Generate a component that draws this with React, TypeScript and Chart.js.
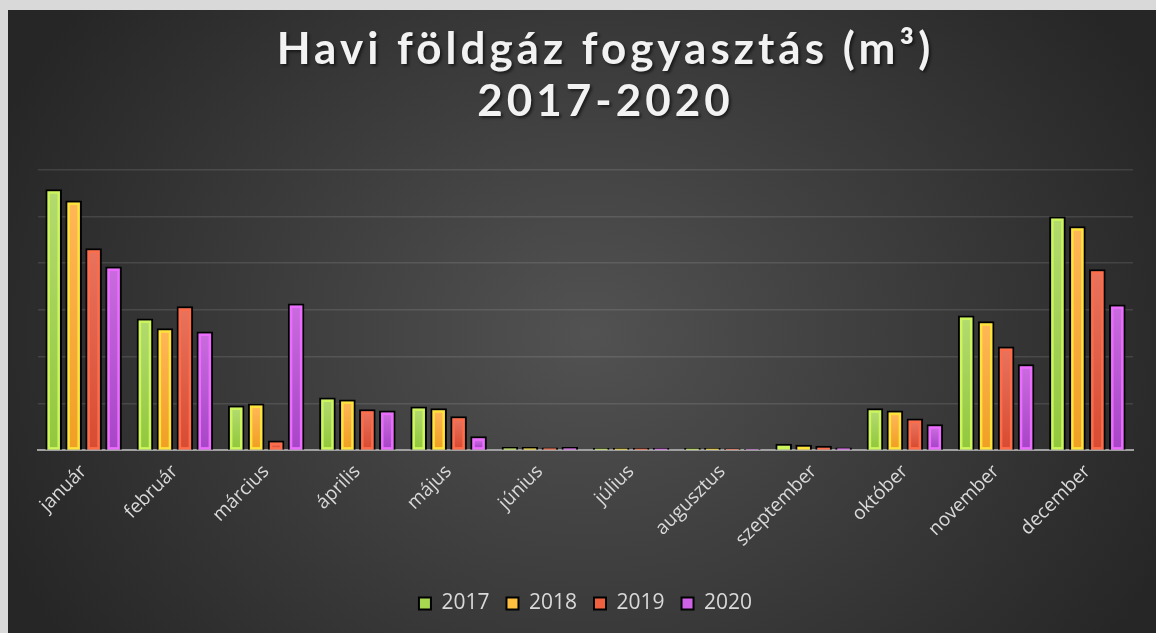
import React, { useEffect, useRef } from 'react';
import { Chart, registerables } from 'chart.js';

Chart.register(...registerables);

const months = ['január', 'február', 'március', 'április', 'május', 'június', 'július', 'augusztus', 'szeptember', 'október', 'november', 'december'];
const years = ['2017', '2018', '2019', '2020'];
const v2017 = [558, 282, 96, 113, 94, 7, 5, 5, 14, 90, 288, 500];
const v2018 = [534, 261, 100, 109, 90, 7, 5, 5, 12, 85, 276, 479];
const v2019 = [432, 308, 21, 88, 73, 6, 5, 4, 10, 68, 222, 387];
const v2020 = [393, 254, 314, 85, 30, 7, 5, 3, 6, 56, 184, 312];
const titleLines = ['Havi földgáz fogyasztás (m³)', '2017-2020'];

const fillTop = ['#b2da6e', '#ffb656', '#e8725c', '#c96ade'];
const fillBottom = ['#92c83e', '#f0a024', '#d84c32', '#a846c8'];
const edgeColors = ['#cdf55c', '#ffe23a', '#ff6c4a', '#ec6cff'];
const legendColors = ['#a8d850', '#ffc040', '#f0603e', '#d062e8'];

const bgPlugin = {
  id: 'bgGradient',
  beforeDraw(chart: any) {
    const { ctx, width, height } = chart;
    const cx = width * 0.505;
    const cy = height * 0.52;
    ctx.save();
    ctx.translate(cx, cy);
    ctx.scale(1, 0.84);
    const g = ctx.createRadialGradient(0, 0, 0, 0, 0, 640);
    g.addColorStop(0, '#525252');
    g.addColorStop(1, '#262626');
    ctx.fillStyle = g;
    ctx.fillRect(-cx - 10, -cy / 0.84 - 10, width + 20, height / 0.84 + 20);
    ctx.restore();
  },
};

const barPlugin = {
  id: 'barStyle',
  afterDatasetsDraw(chart: any) {
    const ctx = chart.ctx;
    chart.data.datasets.forEach((_ds: any, di: number) => {
      const meta = chart.getDatasetMeta(di);
      if (meta.hidden) return;
      meta.data.forEach((bar: any) => {
        const { x, y, base, width } = bar.getProps(['x', 'y', 'base', 'width'], true);
        const b = 2;
        const e = 2.5;
        const left = x - width / 2 + b + e;
        const right = x + width / 2 - b - e;
        const top = y + b + e;
        const bottom = base - e;
        if (bottom - top <= 0 || right - left <= 0) return;
        const g = ctx.createLinearGradient(0, top, 0, bottom);
        g.addColorStop(0, fillTop[di]);
        g.addColorStop(1, fillBottom[di]);
        ctx.save();
        ctx.fillStyle = g;
        ctx.fillRect(left, top, right - left, bottom - top);
        ctx.restore();
      });
    });
  },
};

export default function App() {
  const ref = useRef<HTMLCanvasElement>(null);
  useEffect(() => {
    document.body.style.margin = '0';
    document.body.style.background = '#d9d9d9';
    document.body.style.overflow = 'hidden';
    const canvas = ref.current;
    if (!canvas) return;
    const chart = new Chart(canvas, {
      type: 'bar',
      data: {
        labels: months,
        datasets: [v2017, v2018, v2019, v2020].map((vals, i) => ({
          label: years[i],
          data: vals,
          backgroundColor: edgeColors[i],
          borderColor: '#000000',
          borderWidth: 2,
          borderSkipped: 'start' as const,
          categoryPercentage: 0.875,
          barPercentage: 0.83,
        })),
      },
      options: {
        responsive: false,
        animation: false,
        layout: { padding: { left: 30, right: 23, top: 0, bottom: 9 } },
        scales: {
          x: {
            z: 1,
            grid: { display: false, drawTicks: false },
            border: { display: true, color: '#a0a0a0', width: 2 },
            ticks: {
              color: '#d9d9d9',
              font: { family: 'Open Sans', size: 19 },
              minRotation: 45,
              maxRotation: 45,
              padding: 10,
            },
            afterFit: (scale: any) => {
              scale.height += 15;
            },
          },
          y: {
            min: 0,
            max: 600,
            ticks: { display: false, stepSize: 100 },
            border: { display: false },
            grid: {
              drawTicks: false,
              lineWidth: 1.5,
              color: (c: any) => (c.tick && c.tick.value === 0 ? 'rgba(0,0,0,0)' : 'rgba(255,255,255,0.11)'),
            },
          },
        },
        plugins: {
          tooltip: { enabled: false },
          title: {
            display: true,
            text: titleLines,
            color: '#f2f2f2',
            font: { family: 'Lato', size: 44, weight: 'bold', lineHeight: 1.2 },
            padding: { top: 13, bottom: 41 },
          },
          legend: {
            position: 'bottom',
            labels: {
              color: '#d9d9d9',
              font: { family: 'Open Sans', size: 21 },
              boxWidth: 12,
              boxHeight: 12,
              padding: 17,
              generateLabels: () =>
                years.map((y, i) => ({
                  text: y,
                  fillStyle: legendColors[i],
                  strokeStyle: '#000000',
                  lineWidth: 2,
                  fontColor: '#d9d9d9',
                  hidden: false,
                  datasetIndex: i,
                })),
            },
          },
        },
      },
      plugins: [bgPlugin, barPlugin],
    });
    const tb: any = (chart as any).titleBlock;
    if (tb) {
      const orig = tb.draw.bind(tb);
      tb.draw = (...args: any[]) => {
        const ctx = chart.ctx as any;
        ctx.save();
        ctx.translate(20, 0);
        ctx.letterSpacing = '4px';
        ctx.shadowColor = 'rgba(0,0,0,0.55)';
        ctx.shadowOffsetX = 2;
        ctx.shadowOffsetY = 2;
        ctx.shadowBlur = 3;
        orig(...args);
        ctx.restore();
      };
      chart.draw();
    }
    return () => chart.destroy();
  }, []);
  return (
    <div style={{ position: 'absolute', left: 8, top: 10, width: 1148, height: 623 }}>
      <canvas ref={ref} width={1148} height={623} />
    </div>
  );
}
